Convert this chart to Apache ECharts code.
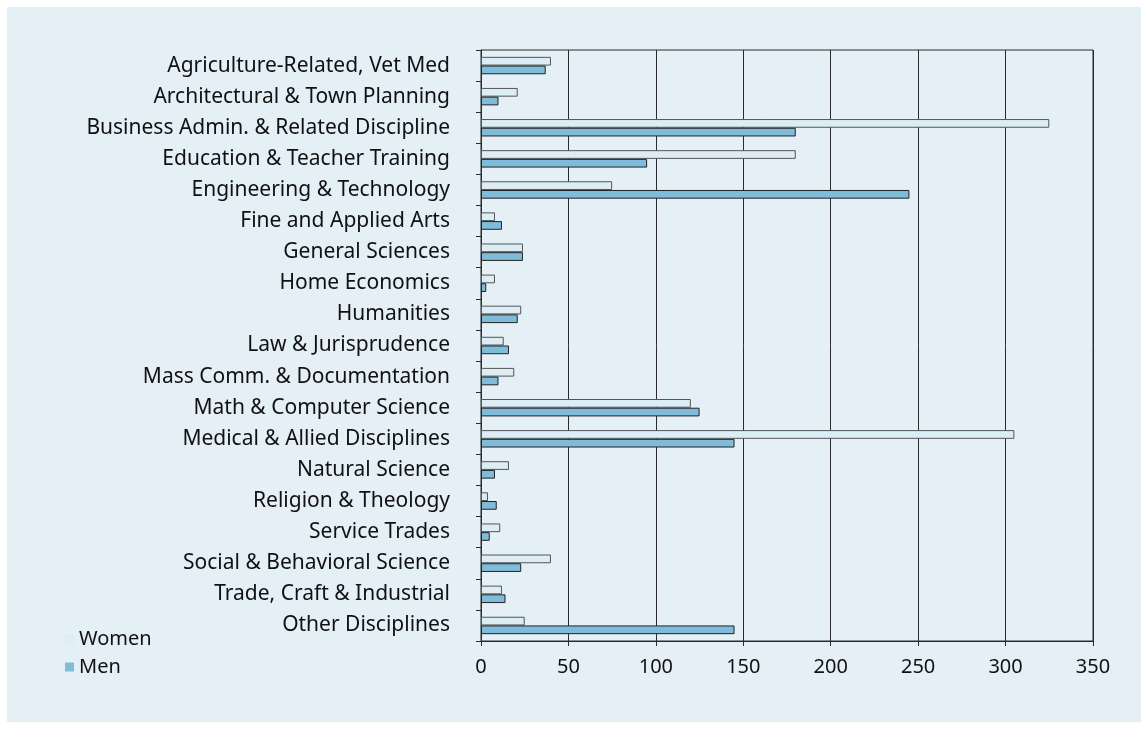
<!DOCTYPE html>
<html>
<head>
<meta charset="utf-8">
<script src="https://cdn.jsdelivr.net/npm/echarts@6/dist/echarts.min.js"></script>
<style>
    html, body { margin: 0; padding: 0; background: #fff; }
    #chart {
        position: absolute;
        left: 7px;
        top: 7px;
        width: 1134px;
        height: 715px;
        background: #e4eff6;
    }
</style>
</head>
<body>
<div id="chart"></div>
<script>
// categories, top to bottom
const disciplines = [
    'Agriculture-Related, Vet Med',
    'Architectural & Town Planning',
    'Business Admin. & Related Discipline',
    'Education & Teacher Training',
    'Engineering & Technology',
    'Fine and Applied Arts',
    'General Sciences',
    'Home Economics',
    'Humanities',
    'Law & Jurisprudence',
    'Mass Comm. & Documentation',
    'Math & Computer Science',
    'Medical & Allied Disciplines',
    'Natural Science',
    'Religion & Theology',
    'Service Trades',
    'Social & Behavioral Science',
    'Trade, Craft & Industrial',
    'Other Disciplines'
];

const women = [40, 21, 325, 180, 75, 8, 24, 8, 23, 13, 19, 120, 305, 16, 4, 11, 40, 12, 25];
const men = [37, 10, 180, 95, 245, 12, 24, 3, 21, 16, 10, 125, 145, 8, 9, 5, 23, 14, 145];

const xTicks = [0, 50, 100, 150, 200, 250, 300, 350];

const textFont = 'Noto Sans';

const chart = echarts.init(document.getElementById('chart'));
chart.setOption({
    animation: false,
    textStyle: { fontFamily: textFont },
    grid: {
        left: 474,
        right: 48,
        top: 43,
        bottom: 81,
        show: true,
        borderColor: '#2a2a2a',
        borderWidth: 1,
        backgroundColor: 'transparent'
    },
    legend: {
        orient: 'vertical',
        left: 53,
        top: 617,
        itemWidth: 9,
        itemHeight: 9,
        itemGap: 8,
        icon: 'rect',
        data: ['Women', 'Men'],
        itemStyle: { borderWidth: 0 },
        textStyle: { fontSize: 20, color: '#111', fontFamily: textFont }
    },
    xAxis: {
        type: 'value',
        min: xTicks[0],
        max: xTicks[xTicks.length - 1],
        interval: 50,
        axisLine: { show: true, lineStyle: { color: '#2a2a2a', width: 1 } },
        axisTick: { show: true, length: 5, lineStyle: { color: '#2a2a2a' } },
        axisLabel: { fontSize: 20, color: '#111', margin: 16 },
        splitLine: { show: true, lineStyle: { color: '#2a2a2a', width: 1 } }
    },
    yAxis: {
        type: 'category',
        inverse: true,
        data: disciplines,
        axisLine: { show: true, lineStyle: { color: '#2a2a2a', width: 1 } },
        axisTick: { show: true, length: 5, lineStyle: { color: '#2a2a2a' } },
        axisLabel: { fontSize: 21, color: '#111', margin: 31 }
    },
    series: [
        {
            name: 'Women',
            type: 'bar',
            data: women,
            barGap: '0%',
            barCategoryGap: '44%',
            itemStyle: { color: '#dcedf5', borderColor: '#555', borderWidth: 1 }
        },
        {
            name: 'Men',
            type: 'bar',
            data: men,
            barGap: '0%',
            barCategoryGap: '44%',
            itemStyle: { color: '#7fbcda', borderColor: '#222', borderWidth: 1 }
        }
    ]
});
</script>
</body>
</html>
